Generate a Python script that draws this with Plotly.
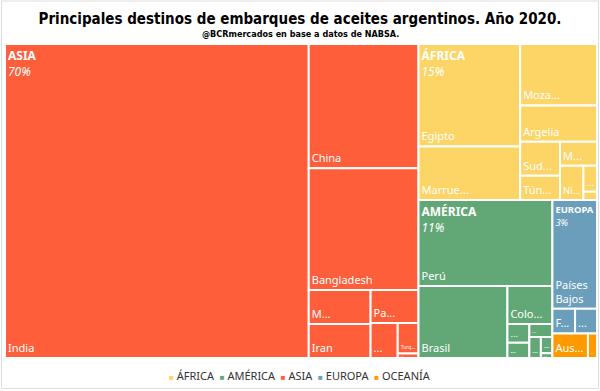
import plotly.graph_objects as go

# ---- data (share of total shipments, %) ----
continents = ["ASIA", "ÁFRICA", "AMÉRICA", "EUROPA", "OCEANÍA"]
continent_colors = ["#FF5E3A", "#FDD466", "#62A877", "#6A9EBA", "#FF9900"]
legend_order = ["ÁFRICA", "AMÉRICA", "ASIA", "EUROPA", "OCEANÍA"]

asia_names = ["India", "China", "Bangladesh", "Malasia", "Irán", "Pakistán", "Asia otros 1", "Turquía", "Asia otros 2"]
asia_text = ["India", "China", "Bangladesh", "M...", "Iran", "Pa...", "...", "Turq...", "..."]
asia_values = [51.3, 7.33, 7.2, 1.13, 1.13, 0.85, 0.51, 0.34, 0.05]

africa_names = ["Egipto", "Marruecos", "Mozambique", "Argelia", "Sudáfrica", "Túnez", "Mauritania", "Nigeria", "África otros 1", "África otros 2"]
africa_text = ["Egipto", "Marrue...", "Moza...", "Argelia", "Sud...", "Tún...", "M...", "Ni...", "...", "..."]
africa_values = [5.6, 2.93, 2.54, 1.5, 0.73, 0.52, 0.48, 0.43, 0.19, 0.06]

america_names = ["Perú", "Brasil", "Colombia", "América otros 1", "América otros 2", "América otros 3", "América otros 4", "América otros 5", "América otros 6"]
america_text = ["Perú", "Brasil", "Colo...", "...", "...", "...", "...", "...", "..."]
america_values = [6.2, 3.44, 0.92, 0.22, 0.18, 0.16, 0.13, 0.10, 0.03]

europa_names = ["Países Bajos", "Francia", "Europa otros"]
europa_text = ["Países<br>Bajos", "F...", "..."]
europa_values = [2.61, 0.30, 0.29]

oceania_names = ["Australia", "Oceanía otros"]
oceania_text = ["Aus...", "..."]
oceania_values = [0.47, 0.12]

children = {
    "ASIA": (asia_names, asia_text, asia_values),
    "ÁFRICA": (africa_names, africa_text, africa_values),
    "AMÉRICA": (america_names, america_text, america_values),
    "EUROPA": (europa_names, europa_text, europa_values),
    "OCEANÍA": (oceania_names, oceania_text, oceania_values),
}
labels_pct = {"ASIA": "70%", "ÁFRICA": "15%", "AMÉRICA": "11%", "EUROPA": "3%", "OCEANÍA": "1%"}

# ---- build hierarchy ----
ids, labels, parents, values, texts, colors = [], [], [], [], [], []
for cont, col in zip(continents, continent_colors):
    ids.append(cont); labels.append(cont); parents.append(""); values.append(0)
    texts.append(""); colors.append(col)
    n, t, v = children[cont]
    for name, tx, val in zip(n, t, v):
        ids.append(cont + "/" + name); labels.append(name); parents.append(cont)
        values.append(val); texts.append(tx); colors.append(col)

totals = [sum(children[c][2]) for c in continents]
group_text = []
for c in continents:
    if c == "OCEANÍA":
        group_text.append("")
    else:
        group_text.append("<b>%s</b><br><i>%s</i>" % (c, labels_pct[c]))

fig = go.Figure()
fig.add_trace(go.Treemap(
    ids=ids, labels=labels, parents=parents, values=values,
    branchvalues="remainder", sort=True,
    text=texts, texttemplate="%{text}", textposition="bottom left",
    textfont=dict(family="Noto Sans, Open Sans, sans-serif", size=11, color="white"),
    marker=dict(colors=colors, line=dict(color="white", width=2),
                pad=dict(t=0, l=0, r=0, b=0)),
    tiling=dict(packing="squarify", squarifyratio=1, pad=0),
    pathbar=dict(visible=False),
    hoverinfo="label+value",
    domain=dict(x=[0, 1], y=[0, 1]),
))
# overlay with continent headers
fig.add_trace(go.Treemap(
    ids=continents, labels=continents, parents=[""] * len(continents), values=totals,
    sort=True,
    text=group_text, texttemplate="%{text}", textposition="top left",
    textfont=dict(family="Noto Sans, Open Sans, sans-serif", size=12, color="white"),
    marker=dict(colors=["rgba(0,0,0,0)"] * len(continents), line=dict(width=0),
                pad=dict(t=0, l=0, r=0, b=0)),
    tiling=dict(packing="squarify", squarifyratio=1, pad=0),
    pathbar=dict(visible=False),
    hoverinfo="skip",
    domain=dict(x=[0, 1], y=[0, 1]),
))

# legend as text line
cmap = dict(zip(continents, continent_colors))
legend_parts = []
for c in legend_order:
    legend_parts.append("<span style='color:%s;font-size:8px'>■</span> %s" % (cmap[c], c))
legend_text = "  ".join(legend_parts)

W, H = 600, 391
ml, mr, mt, mb = 5, 3, 44, 33
pw, ph = W - ml - mr, H - mt - mb
title_font = "Liberation Sans Narrow, DejaVu Sans Condensed, Arial Narrow, sans-serif"

fig.update_layout(
    width=W, height=H,
    margin=dict(l=ml, r=mr, t=mt, b=mb),
    paper_bgcolor="white", plot_bgcolor="white",
    showlegend=False,
    title=dict(text="<b>Principales destinos de embarques de aceites argentinos. Año 2020.</b>",
               x=0.5, xanchor="center", y=1 - 19 / H, yanchor="middle", yref="container",
               font=dict(family=title_font, size=15, color="black")),
    annotations=[
        dict(text="<b>@BCRmercados en base a datos de NABSA.</b>", xref="paper", yref="paper",
             x=(300 - ml) / pw, y=1 + (mt - 34) / ph, xanchor="center", yanchor="middle",
             showarrow=False, font=dict(family=title_font, size=9, color="black")),
        dict(text=legend_text, xref="paper", yref="paper",
             x=(300 - ml) / pw, y=-(375 - (H - mb)) / ph, xanchor="center", yanchor="middle",
             showarrow=False,
             font=dict(family="Noto Sans, Open Sans, sans-serif", size=11, color="#333333")),
    ],
    shapes=[dict(type="rect", xref="paper", yref="paper",
                 x0=(1.5 - ml) / pw, x1=(W - 1.5 - ml) / pw,
                 y0=(2.5 - mb) / ph, y1=1 + (mt - 1) / ph,
                 line=dict(color="#DDDDDD", width=1), fillcolor="rgba(0,0,0,0)", layer="below")],
)

fig.write_html("out.html", config={"displayModeBar": False},
               post_script="document.body.style.margin='0px';document.body.style.padding='0px';")
